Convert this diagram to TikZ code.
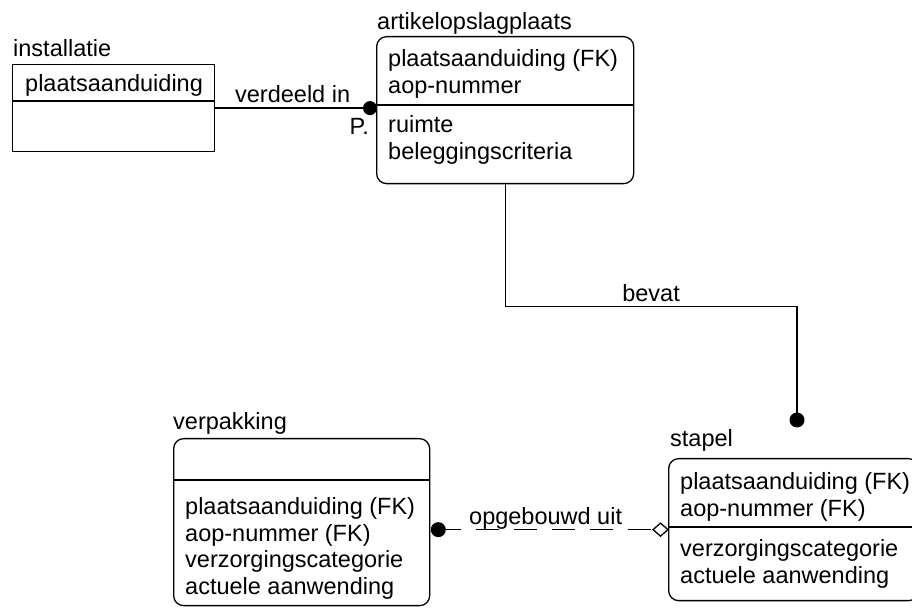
\documentclass[tikz,border=0pt]{standalone}
\usepackage{fontspec}
\setmainfont{Liberation Sans}
\usetikzlibrary{calc,positioning}

\tikzset{
    entity/.style={draw, line width=1.3pt, rounded corners=10pt, anchor=north west, inner sep=0pt},
    ename/.style={anchor=base west, inner sep=0pt},
    attr/.style={anchor=base west, align=left, inner sep=0pt}, % base = last line
    rel/.style={line width=1.3pt},
    rellabel/.style={anchor=base, inner sep=0pt}
}

\begin{document}
\begin{tikzpicture}[x=1pt,y=1pt,font=\fontsize{23.5}{26.5}\selectfont]
\useasboundingbox (0,0) rectangle (912,609);

%%% ENTITIES %%%
\node[entity, sharp corners, minimum width=202pt, minimum height=87pt] (inst) at (12,545) {}; % installatie
\node[entity, minimum width=257pt, minimum height=147pt] (aop) at (376,573) {}; % artikelopslagplaats
\node[entity, minimum width=250pt, minimum height=142pt] (stapel) at (668,151) {}; % stapel
\node[entity, minimum width=256pt, minimum height=167pt] (verp) at (173,171) {}; % verpakking

\node[ename] (instname) at ($(inst.north west)+(1,7)$) {installatie};
\node[ename] (aopname) at ($(aop.north west)+(1,6)$) {artikelopslagplaats};
\node[ename] (stapelname) at ($(stapel.north west)+(2,11)$) {stapel};
\node[ename] (verpname) at ($(verp.north west)+(0,8)$) {verpakking};

%%% DIVIDERS %%%
\draw[rel] (inst.west |- 0,508) -- (inst.east |- 0,508);
\draw[rel] (aop.west |- 0,504) -- (aop.east |- 0,504);
\draw[rel] (stapel.west |- 0,82) -- (stapel.east |- 0,82);
\draw[rel] (verp.west |- 0,129) -- (verp.east |- 0,129);

%%% ATTRIBUTES %%%
\node[attr] (instkey) at (25,517) {plaatsaanduiding};
\node[attr] (aopkey) at (388,515.5) {plaatsaanduiding (FK)\\aop-nummer};
\node[attr] (aopattr) at (388,449.5) {ruimte\\beleggingscriteria};
\node[attr] (stapelkey) at (680,92.5) {plaatsaanduiding (FK)\\aop-nummer (FK)};
\node[attr] (stapelattr) at (680,25.5) {verzorgingscategorie\\actuele aanwending};
\node[attr] (verpattr) at (185,14.5) {plaatsaanduiding (FK)\\aop-nummer (FK)\\verzorgingscategorie\\actuele aanwending};

%%% VERDEELD IN %%%
\coordinate (vdot) at ($(aop.west |- inst.east)+(-6,0)$); % dot left of box
\draw[rel] (inst.east) -- node[rellabel, yshift=6pt] (verdeeld) {verdeeld in} (vdot);
\fill (vdot) circle [radius=7pt];
\node[anchor=base east, inner sep=0pt] (pmark) at ($(vdot)+(-1,-26)$) {P.};

%%% BEVAT %%%
\coordinate (bdot) at (797,189); % dot above stapel
\draw[rel] (aop.south) -- ++(0,-122) -| node[rellabel, pos=0.25, yshift=5pt] (bevat) {bevat} (bdot);
\fill (bdot) circle [radius=7.5pt];

%%% OPGEBOUWD UIT %%%
\coordinate (odot) at ($(verp.east |- stapel.west)+(8,0)$);
\coordinate (otip) at ($(stapel.west)+(-15,0)$);
\draw[rel, dash pattern=on 23pt off 15pt] (odot) -- node[rellabel, yshift=5pt] (opgebouwd) {opgebouwd uit} (otip);
\draw[rel, fill=white] (stapel.west) -- ++(-7.5,6.5) -- ++(-7.5,-6.5) -- ++(7.5,-6.5) -- cycle; % open diamond
\fill (odot) circle [radius=7.5pt];
\end{tikzpicture}
\end{document}
